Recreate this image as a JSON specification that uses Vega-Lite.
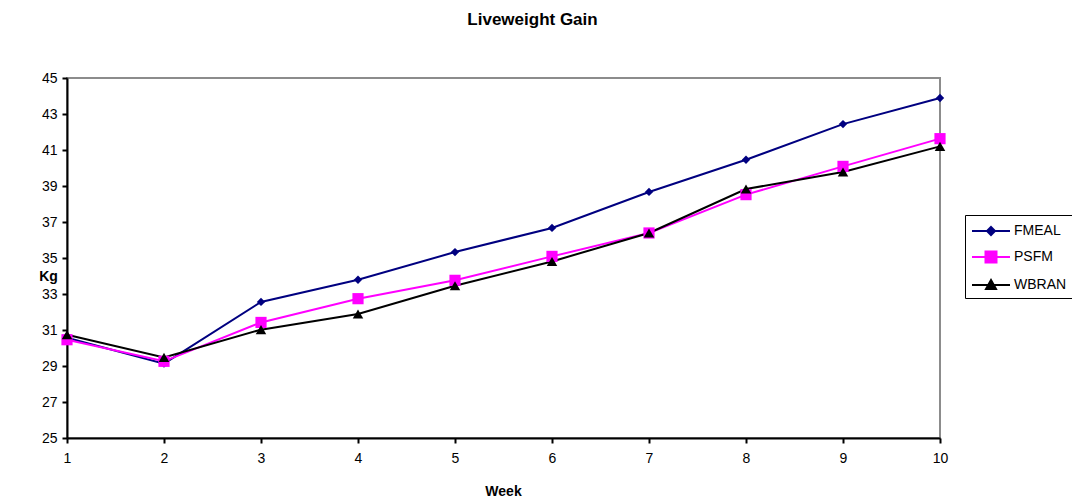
{
  "$schema": "https://vega.github.io/schema/vega-lite/v6.json",
  "width": 873,
  "height": 360,
  "autosize": {"type": "none"},
  "padding": {"left": 67, "top": 78, "right": 132, "bottom": 61},
  "background": "white",
  "config": {
    "font": "Liberation Sans",
    "view": {"stroke": "#8c8c8c", "strokeWidth": 2}
  },
  "title": {
    "text": "Liveweight Gain",
    "font": "Liberation Sans",
    "fontSize": 17,
    "fontWeight": "bold",
    "color": "#000000",
    "anchor": "middle",
    "frame": "group",
    "dx": 29,
    "baseline": "middle",
    "offset": 34
  },
  "data": {
    "values": [
      {"week": 1, "series": "FMEAL", "kg": 30.57},
      {"week": 2, "series": "FMEAL", "kg": 29.13},
      {"week": 3, "series": "FMEAL", "kg": 32.56},
      {"week": 4, "series": "FMEAL", "kg": 33.79},
      {"week": 5, "series": "FMEAL", "kg": 35.33},
      {"week": 6, "series": "FMEAL", "kg": 36.67},
      {"week": 7, "series": "FMEAL", "kg": 38.67},
      {"week": 8, "series": "FMEAL", "kg": 40.46},
      {"week": 9, "series": "FMEAL", "kg": 42.44},
      {"week": 10, "series": "FMEAL", "kg": 43.89},
      {"week": 1, "series": "PSFM", "kg": 30.46},
      {"week": 2, "series": "PSFM", "kg": 29.26},
      {"week": 3, "series": "PSFM", "kg": 31.42},
      {"week": 4, "series": "PSFM", "kg": 32.74},
      {"week": 5, "series": "PSFM", "kg": 33.76},
      {"week": 6, "series": "PSFM", "kg": 35.09},
      {"week": 7, "series": "PSFM", "kg": 36.39},
      {"week": 8, "series": "PSFM", "kg": 38.52},
      {"week": 9, "series": "PSFM", "kg": 40.09},
      {"week": 10, "series": "PSFM", "kg": 41.63},
      {"week": 1, "series": "WBRAN", "kg": 30.74},
      {"week": 2, "series": "WBRAN", "kg": 29.48},
      {"week": 3, "series": "WBRAN", "kg": 31.02},
      {"week": 4, "series": "WBRAN", "kg": 31.89},
      {"week": 5, "series": "WBRAN", "kg": 33.46},
      {"week": 6, "series": "WBRAN", "kg": 34.81},
      {"week": 7, "series": "WBRAN", "kg": 36.39},
      {"week": 8, "series": "WBRAN", "kg": 38.83},
      {"week": 9, "series": "WBRAN", "kg": 39.78},
      {"week": 10, "series": "WBRAN", "kg": 41.2}
    ]
  },
  "encoding": {
    "x": {
      "field": "week",
      "type": "quantitative",
      "scale": {"domain": [1, 10], "nice": false, "zero": false},
      "axis": {
        "values": [1, 2, 3, 4, 5, 6, 7, 8, 9, 10],
        "format": "d",
        "grid": false,
        "labelFlush": false,
        "domainColor": "#000000",
        "domainWidth": 2,
        "tickColor": "#000000",
        "tickWidth": 2,
        "tickSize": 5,
        "labelFontSize": 14,
        "labelColor": "#000000",
        "labelPadding": 8,
        "title": "Week",
        "titleFontSize": 14,
        "titleFontWeight": "bold",
        "titleColor": "#000000",
        "titleX": 436,
        "titleY": 53,
        "titleBaseline": "middle",
        "titleAlign": "center"
      }
    },
    "y": {
      "field": "kg",
      "type": "quantitative",
      "scale": {"domain": [25, 45], "nice": false, "zero": false},
      "axis": {
        "values": [25, 27, 29, 31, 33, 35, 37, 39, 41, 43, 45],
        "grid": false,
        "labelFlush": false,
        "domainColor": "#000000",
        "domainWidth": 2,
        "tickColor": "#000000",
        "tickWidth": 2,
        "tickSize": 5,
        "labelFontSize": 14,
        "labelColor": "#000000",
        "labelPadding": 5,
        "title": "Kg",
        "titleFontSize": 14,
        "titleFontWeight": "bold",
        "titleColor": "#000000",
        "titleAngle": 0,
        "titleX": -19,
        "titleY": 198,
        "titleBaseline": "middle",
        "titleAlign": "center"
      }
    },
    "color": {
      "field": "series",
      "type": "nominal",
      "scale": {"domain": ["FMEAL", "PSFM", "WBRAN"], "range": ["#000080", "#FF00FF", "#000000"]},
      "legend": {
        "title": null,
        "orient": "none",
        "legendX": 898,
        "legendY": 137,
        "strokeColor": "#000000",
        "fillColor": "white",
        "padding": 5,
        "symbolSize": 400,
        "symbolStrokeWidth": 2,
        "rowPadding": 7,
        "symbolOffset": 10,
        "labelOffset": 12,
        "labelFont": "Liberation Sans",
        "labelFontSize": 14,
        "labelColor": "#000000",
        "labelExpr": "datum.label + '\u00a0\u00a0\u00a0\u00a0'",
        "encode": {
          "symbols": {
            "update": {
              "shape": {"signal": "datum.value === 'FMEAL' ? 'M-1.9,0H1.9M0,-0.4L0.4,0L0,0.4L-0.4,0Z' : datum.value === 'PSFM' ? 'M-1.9,0H1.9M-0.55,-0.55H0.55V0.55H-0.55Z' : 'M-1.9,0H1.9M0,-0.5L0.5,0.4L-0.5,0.4Z'"},
              "fill": {"signal": "scale('color', datum.value)"},
              "stroke": {"signal": "scale('color', datum.value)"}
            }
          }
        }
      }
    }
  },
  "layer": [
    {
      "mark": {"type": "line", "strokeWidth": 2}
    },
    {
      "transform": [{"filter": "datum.series === 'FMEAL'"}],
      "mark": {"type": "point", "filled": true, "shape": "diamond", "size": 70, "opacity": 1}
    },
    {
      "transform": [{"filter": "datum.series === 'PSFM'"}],
      "mark": {"type": "point", "filled": true, "shape": "square", "size": 125, "opacity": 1}
    },
    {
      "transform": [{"filter": "datum.series === 'WBRAN'"}],
      "mark": {"type": "point", "filled": true, "shape": "triangle-up", "size": 110, "opacity": 1}
    }
  ]
}
